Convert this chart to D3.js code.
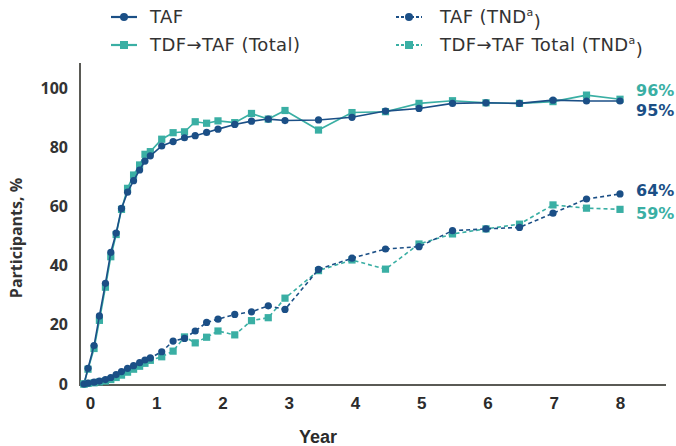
<!DOCTYPE html>
<html>
<head>
<meta charset="utf-8">
<script src="https://cdn.jsdelivr.net/npm/d3@7"></script>
<style>
  body { margin: 0; background: #fff; }
  svg { display: block; }
</style>
</head>
<body>
<svg width="676" height="446"></svg>
<script>
// time points (years) shared by all series
const years = [0, 0.06, 0.15, 0.23, 0.32, 0.4, 0.48, 0.56, 0.65, 0.74, 0.83, 0.91, 0.99,
  1.16, 1.33, 1.5, 1.66, 1.83, 2, 2.25, 2.5, 2.75, 3, 3.5, 4, 4.5, 5, 5.5, 6, 6.5, 7, 7.5, 8];

const tafTotal = [0, 5.3, 13, 23, 34, 44.5, 51, 59.3, 64.8, 68.7, 72.3, 75.3, 77.1,
  80.4, 81.9, 83.2, 83.9, 85, 86.1, 87.7, 88.8, 89.5, 89, 89.2, 90.1, 92.2, 93.1, 94.8, 95, 94.8, 95.9, 95.6, 95.6];
const tdfTotal = [0, 5, 12, 21.5, 32.7, 43, 50.5, 59, 66.1, 70.6, 74, 77.6, 78.5,
  82.7, 84.9, 85.2, 88.6, 88.1, 88.9, 88.3, 91.4, 89.5, 92.4, 85.8, 91.7, 92, 94.8, 95.7, 95, 94.8, 95.4, 97.6, 96.2];
const tafTnd = [0, 0.3, 0.6, 1, 1.5, 2.2, 3.2, 4.2, 5.3, 6.2, 7.2, 8.1, 8.8,
  10.9, 14.5, 15.4, 17.9, 20.8, 21.9, 23.5, 24.4, 26.4, 25.2, 38.7, 42.5, 45.6, 46.4, 51.8, 52.4, 52.9, 57.7, 62.5, 64.2];
const tdfTnd = [0, 0.2, 0.4, 0.7, 1, 1.5, 2.2, 3, 4, 5, 6, 7, 8,
  9.2, 11.1, 15.9, 13.9, 15.8, 17.9, 16.6, 21.4, 22.4, 29, 38.3, 41.9, 38.8, 47.3, 50.7, 52.4, 54, 60.5, 59.4, 59];

const xTicks = [0, 1, 2, 3, 4, 5, 6, 7, 8];
const yTicks = [0, 20, 40, 60, 80, 100];

const seriesNames = ['TAF', 'TDF\u2192TAF (Total)', 'TAF (TND', 'TDF\u2192TAF Total (TND'];
const endLabels = ['95%', '96%', '64%', '59%'];

const dark = '#1b4f86';
const teal = '#3aafa4';

const svg = d3.select('svg');

const x = d3.scaleLinear().domain([0, 8]).range([84, 620]);
const xLab = d3.scaleLinear().domain([0, 8]).range([90, 620]);
const y = d3.scaleLinear().domain([0, 100]).range([384, 88]);

// series, drawn teal first so the dark marks sit on top
const series = [
  { name: seriesNames[1], vals: tdfTotal, color: teal, dash: null, shape: 'square', end: endLabels[1], ly: 90 },
  { name: seriesNames[0], vals: tafTotal, color: dark, dash: null, shape: 'circle', end: endLabels[0], ly: 110 },
  { name: seriesNames[3], vals: tdfTnd, color: teal, dash: '4,3', shape: 'square', end: endLabels[3], ly: 213 },
  { name: seriesNames[2], vals: tafTnd, color: dark, dash: '4,3', shape: 'circle', end: endLabels[2], ly: 190 }
];

// axes
svg.append('line')
  .attr('x1', 80).attr('x2', 80).attr('y1', 63).attr('y2', 386)
  .attr('stroke', '#5a5a55').attr('stroke-width', 2);
svg.append('line')
  .attr('x1', 79).attr('x2', 666).attr('y1', 385).attr('y2', 385)
  .attr('stroke', '#5a5a55').attr('stroke-width', 2);

const xAxis = svg.append('g')
  .attr('transform', 'translate(0,394)')
  .call(d3.axisBottom(xLab).tickValues(xTicks).tickSize(0).tickFormat(d3.format('d')));
xAxis.select('.domain').remove();
xAxis.selectAll('text')
  .attr('font-family', 'Liberation Sans, Arial, sans-serif')
  .attr('font-weight', 'bold')
  .attr('font-size', 17)
  .attr('fill', '#2b2b2b');

const yAxis = svg.append('g')
  .attr('transform', 'translate(71,0)')
  .call(d3.axisLeft(y).tickValues(yTicks).tickSize(0));
yAxis.select('.domain').remove();
yAxis.selectAll('text')
  .attr('font-family', 'Open Sans, sans-serif')
  .attr('font-weight', 'bold')
  .attr('font-size', 16)
  .attr('fill', '#333');

svg.append('text')
  .attr('transform', 'translate(22,238) rotate(-90)')
  .attr('text-anchor', 'middle')
  .attr('font-family', 'Open Sans, sans-serif')
  .attr('font-weight', 'bold')
  .attr('font-size', 16)
  .attr('fill', '#333')
  .text('Participants, %');

svg.append('text')
  .attr('x', 318).attr('y', 443)
  .attr('text-anchor', 'middle')
  .attr('font-family', 'Liberation Sans, Arial, sans-serif')
  .attr('font-weight', 'bold')
  .attr('font-size', 18)
  .attr('fill', '#2b2b2b')
  .text('Year');

// lines and markers
const line = d3.line().x(d => x(d[0])).y(d => y(d[1]));

function drawMarker(g, shape, color, cx, cy, size) {
  const r = size || 3.6;
  if (shape === 'circle') {
    g.append('circle').attr('cx', cx).attr('cy', cy).attr('r', r).attr('fill', color);
  } else {
    g.append('rect').attr('x', cx - r).attr('y', cy - r)
      .attr('width', r * 2).attr('height', r * 2).attr('fill', color);
  }
}

series.forEach(s => {
  const pts = years.map((t, i) => [t, s.vals[i]]);
  const g = svg.append('g');
  g.append('path')
    .attr('d', line(pts))
    .attr('fill', 'none')
    .attr('stroke', s.color)
    .attr('stroke-width', 1.6)
    .attr('stroke-dasharray', s.dash);
  pts.forEach(p => drawMarker(g, s.shape, s.color, x(p[0]), y(p[1])));

  svg.append('text')
    .attr('x', 636).attr('y', s.ly)
    .attr('dy', '0.36em')
    .attr('font-family', 'DejaVu Sans, sans-serif')
    .attr('font-weight', 'bold')
    .attr('font-size', 16)
    .attr('fill', s.color)
    .text(s.end);
});

// legend: totals on the left, TND on the right
const legend = [
  { s: series[1], lx: 111, tx: 150, ly: 17 },
  { s: series[0], lx: 111, tx: 150, ly: 45 },
  { s: series[3], lx: 396, tx: 440, ly: 17 },
  { s: series[2], lx: 396, tx: 440, ly: 45 }
];

legend.forEach(l => {
  const g = svg.append('g');
  g.append('line')
    .attr('x1', l.lx).attr('x2', l.lx + 26)
    .attr('y1', l.ly).attr('y2', l.ly)
    .attr('stroke', l.s.color).attr('stroke-width', 2.2)
    .attr('stroke-dasharray', l.s.dash ? '3,2' : null);
  drawMarker(g, l.s.shape, l.s.color, l.lx + 13, l.ly, 4);
  const t = g.append('text')
    .attr('x', l.tx).attr('y', l.ly)
    .attr('dy', '0.36em')
    .attr('font-family', 'DejaVu Sans, sans-serif')
    .attr('font-size', 18)
    .attr('letter-spacing', 0.4)
    .attr('fill', '#333')
    .text(l.s.name);
  if (l.s.dash) {
    t.append('tspan').attr('font-size', 11).attr('dy', '-0.7em').text('a');
    t.append('tspan').attr('dy', '0.7em').text(')');
  }
});
</script>
</body>
</html>
